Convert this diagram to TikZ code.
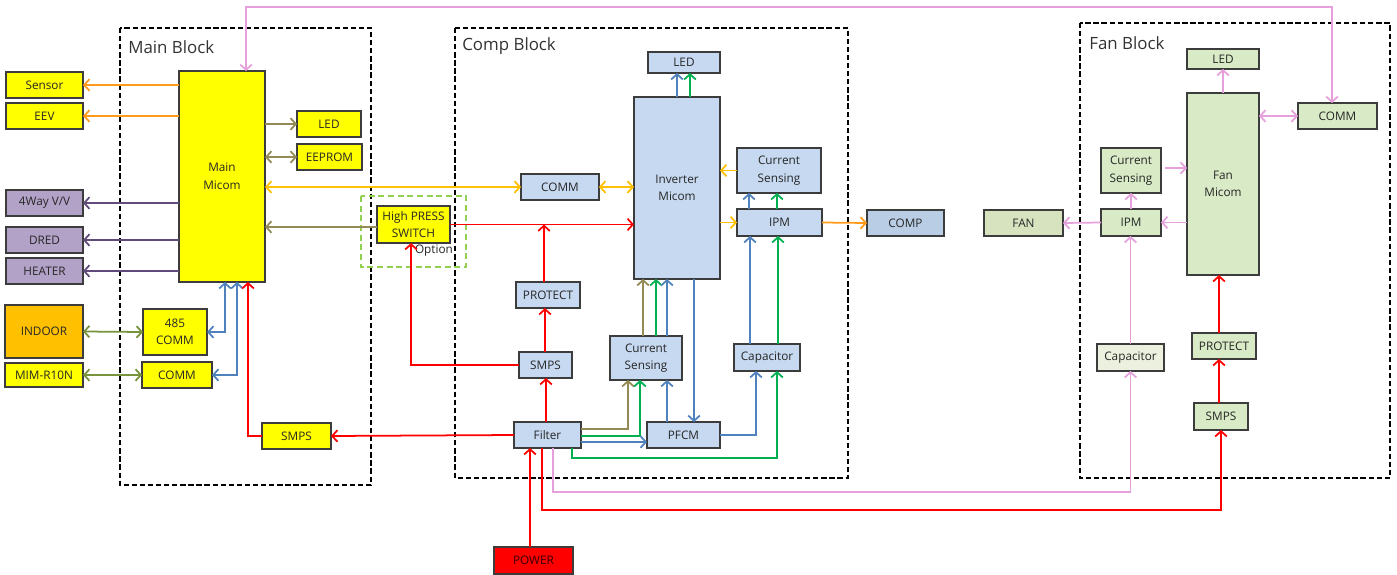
\documentclass[tikz,border=0pt]{standalone}
\usepackage{fontspec}
\setmainfont{Open Sans}
\usetikzlibrary{arrows.meta,calc}
\definecolor{cOr}{HTML}{FF9A1A}
\definecolor{cYo}{HTML}{FFC000}
\definecolor{cOl}{HTML}{948A54}
\definecolor{cPu}{HTML}{604A7B}
\definecolor{cGr}{HTML}{77933C}
\definecolor{cBl}{HTML}{4F81BD}
\definecolor{cGn}{HTML}{00B050}
\definecolor{cRd}{HTML}{FF0000}
\definecolor{cPk}{HTML}{E6A1DD}
\definecolor{fYe}{HTML}{FFFF00}
\definecolor{fPu}{HTML}{B3A2C7}
\definecolor{fIn}{HTML}{FFC000}
\definecolor{fCb}{HTML}{C6D9F1}
\definecolor{fCo}{HTML}{B9CDE5}
\definecolor{fFb}{HTML}{D8EBC6}
\definecolor{fFa}{HTML}{D7E3BF}
\definecolor{fFc}{HTML}{EBF1DE}
\definecolor{bdr}{HTML}{3C3C3C}
\definecolor{optc}{HTML}{92D050}
\tikzset{
  box/.style={draw=bdr, line width=0.95pt, inner sep=1pt, outer sep=0pt, align=center,
    text=black!85, font=\fontsize{6.7}{10}\selectfont},
  yb/.style={box, fill=fYe},
  pb/.style={box, fill=fPu},
  ib/.style={box, fill=fIn},
  cb/.style={box, fill=fCb},
  cob/.style={box, fill=fCo},
  fb/.style={box, fill=fFb},
  fab/.style={box, fill=fFa},
  fcb/.style={box, fill=fFc},
  rb/.style={box, fill=cRd, text=black!80!red},
  tip/.tip={Straight Barb[length=3pt,width=6.6pt,line width=1pt]},
  ar/.style={line width=1pt, -tip},
  dar/.style={line width=1pt, tip-tip},
  blk/.style={draw=black, line width=1.1pt, dash pattern=on 3pt off 1.6pt},
  optbox/.style={draw=optc, line width=0.9pt, dash pattern=on 3.5pt off 2pt},
  blabel/.style={anchor=west, inner sep=0pt, font=\fontsize{9.6}{12}\selectfont, text=black!80},
}
\newcommand\bx[7]{\node[#6, minimum width={(#4-#2)*0.02cm}, minimum height={(#5-#3)*0.02cm}] (#1) at ({(#2+#4)/2},{(#3+#5)/2}) {#7};}
\begin{document}
\begin{tikzpicture}[x=0.02cm,y=-0.02cm]
\useasboundingbox (0,0) rectangle (1397,575);
% blocks
\draw[blk] (120,28) rectangle (371,485);
\node[blabel] (lmain) at (128,47) {Main Block};
\draw[blk] (455,28) rectangle (848,478);
\node[blabel] (lcomp) at (462,46) {Comp Block};
\draw[blk] (1080,23) rectangle (1390,478);
\node[blabel] (lfan) at (1089,43) {Fan Block};
\draw[optbox] (361,196) rectangle (466,267);
% main block nodes
\bx{sensor}{6}{72}{83}{98}{yb}{Sensor}
\bx{eev}{6}{103}{83}{129}{yb}{EEV}
\bx{micom}{179}{71}{265}{282}{yb}{Main\\Micom}
\bx{mled}{297}{111}{361}{137}{yb}{LED}
\bx{eeprom}{297}{144}{362}{170}{yb}{EEPROM}
\bx{fourway}{6}{190}{83}{216}{pb}{4Way V/V}
\bx{dred}{6}{227}{83}{253}{pb}{DRED}
\bx{heater}{6}{258}{83}{284}{pb}{HEATER}
\bx{indoor}{5}{305}{83}{358}{ib}{INDOOR}
\bx{mim}{5}{363}{83}{387}{yb}{MIM-R10N}
\bx{c485}{143}{309}{207}{355}{yb}{485\\COMM}
\bx{mcomm}{142}{362}{212}{388}{yb}{COMM}
\bx{msmps}{262}{423}{331}{449}{yb}{SMPS}
\bx{hps}{377}{206}{450}{243}{yb}{High PRESS\\SWITCH}
\node[inner sep=0pt, font=\fontsize{6.7}{10}\selectfont, text=black!85] (opt) at (434,251) {Option};
% comp block nodes
\bx{cled}{648}{52}{720}{73}{cb}{LED}
\bx{imicom}{634}{97}{720}{279}{cb}{Inverter\\Micom}
\bx{ccomm}{521}{174}{599}{200}{cb}{COMM}
\bx{ccs}{737}{148}{821}{193}{cb}{Current\\Sensing}
\bx{cipm}{737}{209}{822}{236}{cb}{IPM}
\bx{comp}{867}{210}{944}{236}{cob}{COMP}
\bx{cprot}{516}{282}{580}{308}{cb}{PROTECT}
\bx{csmps}{519}{352}{572}{378}{cb}{SMPS}
\bx{filter}{514}{422}{581}{448}{cb}{Filter}
\bx{ccs2}{610}{336}{682}{380}{cb}{Current\\Sensing}
\bx{pfcm}{647}{422}{720}{448}{cb}{PFCM}
\bx{ccap}{734}{344}{800}{371}{cb}{Capacitor}
\bx{power}{494}{547}{573}{574}{rb}{POWER}
% fan block nodes
\bx{fan}{984}{210}{1063}{236}{fab}{FAN}
\bx{fled}{1187}{49}{1259}{69}{fb}{LED}
\bx{fmicom}{1187}{93}{1259}{275}{fb}{Fan\\Micom}
\bx{fcomm}{1298}{103}{1377}{129}{fb}{COMM}
\bx{fcs}{1101}{148}{1161}{193}{fb}{Current\\Sensing}
\bx{fipm}{1101}{209}{1161}{236}{fb}{IPM}
\bx{fcap}{1097}{344}{1164}{371}{fcb}{Capacitor}
\bx{fprot}{1192}{333}{1256}{359}{fb}{PROTECT}
\bx{fsmps}{1194}{403}{1248}{430}{fb}{SMPS}
% ---- main connectors
\draw[ar,cOr] (micom.west |- sensor.east) -- (sensor.east);
\draw[ar,cOr] (micom.west |- eev.east) -- (eev.east);
\draw[ar,cOl] (micom.east |- mled.west) -- (mled.west);
\draw[dar,cOl] (micom.east |- eeprom.west) -- (eeprom.west);
\draw[ar,cPu] (micom.west |- fourway.east) -- (fourway.east);
\draw[ar,cPu] (micom.west |- dred.east) -- (dred.east);
\draw[ar,cPu] (micom.west |- heater.east) -- (heater.east);
\draw[dar,cYo] (micom.east |- ccomm.west) -- (ccomm.west);
\draw[ar,cOl] (hps.west |- 0,227) -- (micom.east |- 0,227);
\draw[dar,cGr] (indoor.east) -- (c485.west);
\draw[dar,cGr] (mim.east) -- (mcomm.west);
\draw[dar,cBl] (c485.east) -| (micom.south -| 225,0);
\draw[dar,cBl] (mcomm.east) -| (micom.south -| 237,0);
\draw[ar,cRd] (msmps.west) -| (micom.south -| 248,0);
\draw[ar,cRd] (filter.west) -- (msmps.east);
\draw[dar,cPk] (micom.north -| 246,0) -- (246,7) -- (1332,7) -- (fcomm.north -| 1332,0);
% ---- comp connectors
\draw[ar,cBl] (imicom.north -| 677,0) -- (cled.south -| 677,0);
\draw[ar,cGn] (imicom.north -| 690,0) -- (cled.south -| 690,0);
\draw[dar,cYo] (ccomm.east) -- (imicom.west |- ccomm.east);
\draw[ar,cYo] (ccs.west) -- (imicom.east |- ccs.west);
\draw[ar,cYo] (imicom.east |- cipm.west) -- (cipm.west);
\draw[ar,cBl] (cipm.north -| 749,0) -- (ccs.south -| 749,0);
\draw[ar,cGn] (cipm.north -| 777,0) -- (ccs.south -| 777,0);
\draw[ar,cOr] (cipm.east) -- (comp.west);
\draw[ar,cRd] (hps.east) -- (imicom.west |- hps.east);
\draw[ar,cRd] (cprot.north -| 544,0) -- (hps.east -| 544,0);
\draw[ar,cRd] (csmps.north -| 545,0) -- (cprot.south -| 545,0);
\draw[ar,cRd] (filter.north -| 546,0) -- (csmps.south -| 546,0);
\draw[ar,cRd] (csmps.west) -| (hps.south -| 411,0);
\draw[ar,cRd] (power.north -| 530,0) -- (filter.south -| 530,0);
\draw[ar,cOl] (filter.east |- 0,429) -| (ccs2.south -| 628,0);
\draw[ar,cGn] (filter.east |- 0,436) -| (ccs2.south -| 640,0);
\draw[ar,cBl] (filter.east |- 0,442) -- (pfcm.west |- 0,442);
\draw[ar,cGn] (filter.south -| 572,0) -- (572,458) -| (ccap.south -| 777,0);
\draw[ar,cBl] (pfcm.east) -| (ccap.south -| 756,0);
\draw[ar,cBl] (pfcm.north -| 667,0) -- (ccs2.south -| 667,0);
\draw[ar,cBl] (imicom.south -| 694,0) -- (pfcm.north -| 694,0);
\draw[ar,cOl] (ccs2.north -| 643,0) -- (imicom.south -| 643,0);
\draw[ar,cGn] (ccs2.north -| 656,0) -- (imicom.south -| 656,0);
\draw[ar,cBl] (ccs2.north -| 667,0) -- (imicom.south -| 667,0);
\draw[ar,cBl] (ccap.north -| 750,0) -- (cipm.south -| 750,0);
\draw[ar,cGn] (ccap.north -| 778,0) -- (cipm.south -| 778,0);
\draw[ar,cRd] (filter.south -| 542,0) -- (542,510) -| (fsmps.south);
\draw[ar,cPk] (filter.south -| 553,0) -- (553,492) -| (fcap.south);
% ---- fan connectors
\draw[ar,cPk] (fcap.north) -- (fipm.south -| fcap.north);
\draw[ar,cPk] (fipm.north) -- (fcs.south);
\draw[ar,cPk] (fcs.east |- 0,168) ++(4,0) -- (fmicom.west |- 0,168);
\draw[ar,cPk] (fmicom.west |- fipm.east) -- (fipm.east);
\draw[ar,cPk] (fipm.west) -- (fan.east);
\draw[ar,cPk] (fmicom.north) -- (fled.south);
\draw[dar,cPk] (fmicom.east |- fcomm.west) -- (fcomm.west);
\draw[ar,cRd] (fsmps.north -| 1219,0) -- (fprot.south -| 1219,0);
\draw[ar,cRd] (fprot.north -| 1219,0) -- (fmicom.south -| 1219,0);
\end{tikzpicture}
\end{document}
